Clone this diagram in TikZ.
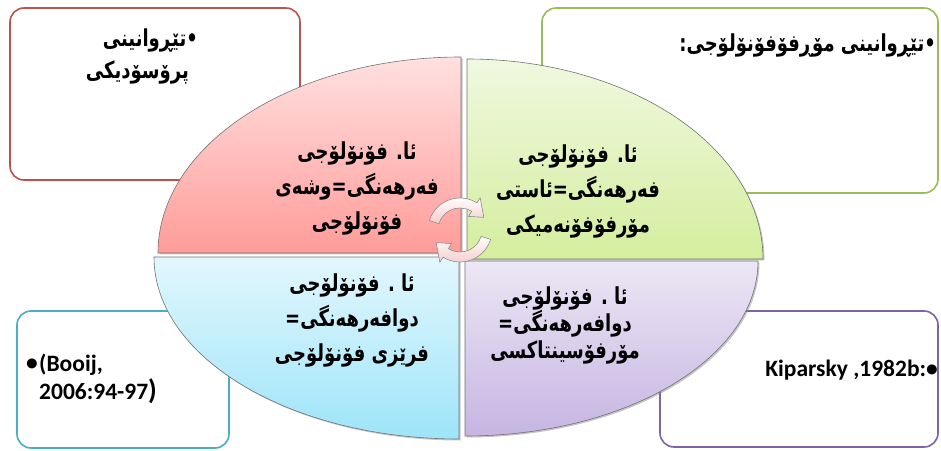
\documentclass[tikz,border=0pt]{standalone}
\usepackage{graphicx}
\usepackage{fontspec}
\setmainfont{Carlito}
\newfontfamily\kurdfont[Script=Arabic]{DejaVu Sans}
\TeXXeTstate=1
\usepackage{tikz}
\usetikzlibrary{
    positioning,
    calc,
    shadows
}
\definecolor{boxRed}{RGB}{192, 80, 77}
\definecolor{boxGreen}{RGB}{155, 187, 89}
\definecolor{boxBlue}{RGB}{75, 172, 198}
\definecolor{boxPurple}{RGB}{128, 100, 162}
\definecolor{redTop}{RGB}{255, 224, 224}
\definecolor{redBot}{RGB}{255, 156, 153}
\definecolor{greenTop}{RGB}{240, 248, 224}
\definecolor{greenBot}{RGB}{212, 238, 158}
\definecolor{blueTop}{RGB}{226, 247, 253}
\definecolor{blueBot}{RGB}{158, 228, 249}
\definecolor{purpleTop}{RGB}{236, 231, 245}
\definecolor{purpleBot}{RGB}{198, 181, 226}
\definecolor{pinkArrow}{RGB}{246, 204, 204}
\newcommand{\kline}[1]{\scalebox{1}[1.3]{\beginR #1\endR}}

\begin{document}
\begin{tikzpicture}[x=1pt, y=1pt,
    infobox/.style={line width=1.6pt, rounded corners=14pt},
    quarter/.style={draw=black!55, line width=0.6pt,
        drop shadow={shadow xshift=1.5pt, shadow yshift=-1.5pt, opacity=0.45}},
    kutext/.style={font={\kurdfont\bfseries\fontsize{18}{35}\selectfont}, align=center, inner sep=0pt},
    latext/.style={font={\bfseries\fontsize{23.5}{28}\selectfont}, inner sep=0pt},
    cyclearrow/.style={draw=black!45, line width=0.6pt, top color=white, bottom color=pinkArrow}]
            \useasboundingbox (0,0) rectangle (941,450);
            \fill[white] (0,0) rectangle (941,450);

            \draw[infobox, draw=boxRed] (10,442) rectangle (300,270);
            \draw[infobox, draw=boxGreen] (542,442) rectangle (938,257);
            \draw[infobox, draw=boxBlue] (17,139) rectangle (229,2);
            \draw[infobox, draw=boxPurple] (660,139) rectangle (938,3);

            \coordinate (R) at (461,197);
            \coordinate (G) at (467,191);
            \coordinate (B) at (459,193);
            \coordinate (P) at (465,189);
            \coordinate (O) at (460,220);

            \draw[quarter, top color=redTop, bottom color=redBot]
                (R) -- ++(-303,0) arc[start angle=180, end angle=90, x radius=303, y radius=196] -- cycle;
            \draw[quarter, top color=greenTop, bottom color=greenBot]
                (G) -- ++(0,200) arc[start angle=90, end angle=0, x radius=296, y radius=200] -- cycle;
            \draw[quarter, top color=blueTop, bottom color=blueBot]
                (B) -- ++(-305,0) arc[start angle=180, end angle=270, x radius=305, y radius=182] -- cycle;
            \draw[quarter, top color=purpleTop, bottom color=purpleBot]
                (P) -- ++(0,-175) arc[start angle=270, end angle=360, x radius=293, y radius=175] -- cycle;

            \begin{scope}[shift={(O)}]
                \draw[cyclearrow] (163:32) arc[start angle=163, end angle=58, radius=32]
                    -- (58:38) -- (28:27) -- (58:16) -- (58:22)
                    arc[start angle=58, end angle=163, radius=22] -- cycle;
                \draw[cyclearrow] (343:32) arc[start angle=343, end angle=238, radius=32]
                    -- (238:38) -- (208:27) -- (238:16) -- (238:22)
                    arc[start angle=238, end angle=343, radius=22] -- cycle;
            \end{scope}

            \node[kutext] (redtext) at (357,262)
                {\kline{ئا. فۆنۆلۆجی}\\ \kline{فەرهەنگی=وشەی}\\ \kline{فۆنۆلۆجی}};
            \node[kutext] (greentext) at (578,259)
                {\kline{ئا. فۆنۆلۆجی}\\ \kline{فەرهەنگی=ئاستی}\\ \kline{مۆرفۆفۆنەمیکی}};
            \node[kutext] (bluetext) at (352,130)
                {\kline{ئا . فۆنۆلۆجی}\\ \kline{دوافەرهەنگی=}\\ \kline{فرێزی فۆنۆلۆجی}};
            \node[kutext, font={\kurdfont\bfseries\fontsize{18}{27}\selectfont}] (purpletext) at (565,125)
                {\kline{ئا . فۆنۆلۆجی}\\ \kline{دوافەرهەنگی=}\\ \kline{مۆرفۆسینتاکسی}};

            \node[kutext, anchor=east] (tlA) at (198,410) {\kline{•تێڕوانینی}};
            \node[kutext, anchor=east] (tlB) at (189,378) {\kline{پرۆسۆدیکی}};
            \node[kutext, anchor=east] (trA) at (936,405) {\kline{•تێڕوانینی مۆڕفۆفۆنۆلۆجی:}};

            \node[latext, anchor=east] (blDot) at (38,85) {•};
            \node[latext, anchor=west, align=left] (blText) at (39,71)
                {(Booij,\\2006:94-97{\fontsize{28}{28}\selectfont)}};
            \node[latext, anchor=east] (brText) at (938,80) {Kiparsky ,1982b:•};
        \end{tikzpicture}
\end{document}
